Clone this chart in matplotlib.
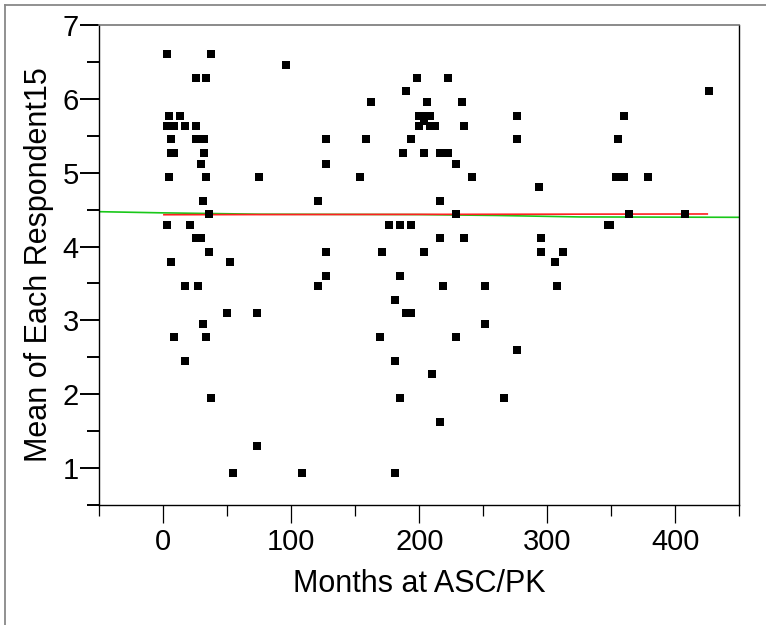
import matplotlib.pyplot as plt
from matplotlib.lines import Line2D
from matplotlib.ticker import MultipleLocator

plt.rcParams['font.family'] = ['Liberation Sans', 'DejaVu Sans']

# months at ASC/PK and mean score of each respondent
months = [2.6, 37.6, 95.8, 25.2, 33.5, 162.3, 4.6, 12.7, 2.6, 8.6,
          16.9, 25.2, 6.4, 25.2, 31.7, 127.0, 158.2, 6.4, 8.6, 31.7,
          29.3, 127.0, 4.4, 33.5, 75.0, 154.0, 31.4, 120.8, 35.6, 2.6,
          21.0, 176.5, 25.2, 29.3, 35.6, 127.0, 170.6, 6.4, 52.2, 127.0,
          197.9, 222.6, 189.4, 426.2, 206.0, 233.0, 200.0, 204.0, 208.0, 200.0,
          204.0, 208.0, 212.2, 235.0, 276.6, 359.7, 193.5, 276.6, 355.6, 187.3,
          203.9, 216.3, 222.6, 228.8, 241.3, 353.5, 359.7, 378.4, 293.2, 216.3,
          228.8, 363.9, 407.5, 185.2, 193.5, 347.2, 349.3, 216.3, 235.0, 295.3,
          203.9, 295.3, 311.9, 305.7, 185.2,
          16.9, 27.3, 120.8, 49.9, 72.9, 31.4, 8.6, 33.5, 169.5, 16.9,
          37.6, 72.9, 54.2, 108.3,
          218.4, 251.7, 307.8, 181.0, 189.4, 193.5, 251.7, 228.8, 276.6, 181.0,
          210.1, 185.2, 266.2, 216.3, 181.0]
means = [6.60, 6.60, 6.45, 6.28, 6.28, 5.95, 5.77, 5.77, 5.63, 5.63,
         5.63, 5.63, 5.45, 5.45, 5.45, 5.45, 5.45, 5.27, 5.27, 5.27,
         5.12, 5.12, 4.94, 4.94, 4.94, 4.94, 4.62, 4.62, 4.44, 4.29,
         4.29, 4.29, 4.11, 4.11, 3.93, 3.93, 3.93, 3.79, 3.79, 3.60,
         6.28, 6.28, 6.10, 6.10, 5.95, 5.95, 5.77, 5.77, 5.77, 5.63,
         5.70, 5.63, 5.63, 5.63, 5.77, 5.77, 5.45, 5.45, 5.45, 5.27,
         5.27, 5.27, 5.27, 5.12, 4.94, 4.94, 4.94, 4.94, 4.80, 4.62,
         4.44, 4.44, 4.44, 4.29, 4.29, 4.29, 4.29, 4.11, 4.11, 4.11,
         3.93, 3.93, 3.93, 3.79, 3.60,
         3.46, 3.46, 3.46, 3.10, 3.10, 2.95, 2.77, 2.77, 2.77, 2.45,
         1.95, 1.30, 0.94, 0.94,
         3.46, 3.46, 3.46, 3.28, 3.10, 3.10, 2.95, 2.77, 2.60, 2.45,
         2.27, 1.95, 1.95, 1.62, 0.94]

# fitted lines
fit_x = [0.5, 425.0]
fit_y = [4.43, 4.44]
smooth_x = [-50, 0, 75, 200, 260, 325, 450]
smooth_y = [4.471, 4.455, 4.437, 4.432, 4.42, 4.40, 4.395]

fig = plt.figure(figsize=(7.66, 6.25), dpi=100)
ax = fig.add_axes([0.1296, 0.1915, 0.8355, 0.769])

ax.plot(months, means, 's', color='black', markersize=5.4, markeredgewidth=0, zorder=3)
ax.plot(smooth_x, smooth_y, color='#19c819', linewidth=1.2, zorder=2)
ax.plot(fit_x, fit_y, color='#ff2020', linewidth=1.2, zorder=2)

ax.set_xlim(-50, 450)
ax.set_ylim(0.5, 7)
ax.xaxis.set_major_locator(MultipleLocator(100))
ax.xaxis.set_minor_locator(MultipleLocator(50))
ax.yaxis.set_major_locator(MultipleLocator(1))
ax.yaxis.set_minor_locator(MultipleLocator(0.5))

ax.tick_params(axis='y', which='major', length=13.7, width=1.4, pad=1, labelsize=21)
ax.tick_params(axis='y', which='minor', length=8.6, width=1.4)
ax.tick_params(axis='x', which='major', length=13, width=0.9, pad=3, labelsize=21)
ax.tick_params(axis='x', which='minor', length=7.7, width=0.9)

for side in ['left', 'bottom', 'right']:
    ax.spines[side].set_linewidth(1.0)
    ax.spines[side].set_color('black')
ax.spines['top'].set_color('#777777')
ax.spines['top'].set_linewidth(1.2)

ax.set_xlabel('Months at ASC/PK', fontsize=22, labelpad=10)
ax.set_ylabel('Mean of Each Respondent15', fontsize=22, labelpad=6)

# outer frame
fig.add_artist(Line2D([5 / 766, 5 / 766], [0, 1 - 4.7 / 625], color='#888888', linewidth=1.3))
fig.add_artist(Line2D([5 / 766, 1], [1 - 4.7 / 625, 1 - 4.7 / 625], color='#888888', linewidth=1.3))

fig.savefig('out.png', dpi=100)
